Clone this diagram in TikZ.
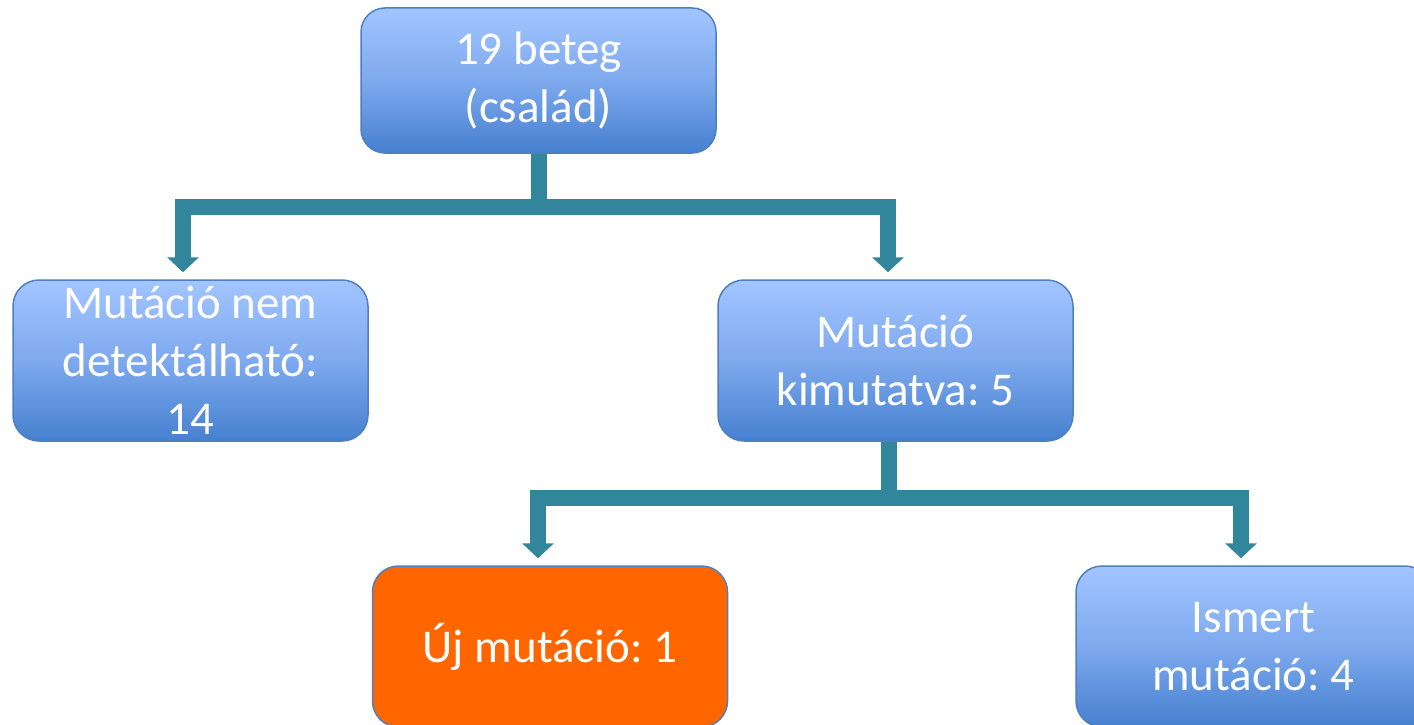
\documentclass[tikz,border=0pt]{standalone}
\usepackage{fontspec}
\setmainfont{Carlito}
\usetikzlibrary{arrows.meta}
\definecolor{boxtop}{HTML}{A2C5FF}
\definecolor{boxmid}{HTML}{7EA9EE}
\definecolor{boxbot}{HTML}{4580CF}
\definecolor{boxline}{HTML}{4F7FBF}
\definecolor{conncol}{HTML}{31869C}
\definecolor{orangefill}{HTML}{FF6600}
\tikzset{
  box/.style={rectangle, draw=boxline, line width=1.5pt, rounded corners=26pt,
    top color=boxtop, bottom color=boxbot, middle color=boxmid,
    minimum width=355pt, minimum height=161pt, inner sep=0pt,
    text=white, align=center, font=\fontsize{47}{58}\selectfont\frenchspacing},
  newbox/.style={box, fill=orangefill, top color=orangefill, bottom color=orangefill, middle color=orangefill},
  conn/.style={draw=conncol, line width=16pt, line join=miter,
    -{Triangle[width=31pt,length=15pt]}, shorten >=7pt},
}
\frenchspacing
\begin{document}
\begin{tikzpicture}[x=1pt,y=-1pt]
\useasboundingbox (0,0) rectangle (1414,725);
\clip (0,0) rectangle (1414,725);
\node[box, minimum height=145pt, rounded corners=24pt] (root) at (538.5,80.5) {19 beteg\\(család)};
\node[box] (nodet) at (190.5,360.5) {Mutáció nem\\detektálható:\\14};
\node[box] (found) at (895.5,360.5) {Mutáció\\kimutatva: 5};
\node[newbox] (uj) at (550,646.5) {Új mutáció: 1};
\node[box] (known) at (1253.5,646.5) {Ismert\\mutáció: 4};
\draw[conn] (root.south) -- ++(0,53) -| ([xshift=-7.5pt]nodet.north);
\draw[conn] (root.south) -- ++(0,53) -| ([xshift=-7.5pt]found.north);
\draw[conn] ([xshift=-6.5pt]found.south) -- ++(0,56) -| ([xshift=-12pt]uj.north);
\draw[conn] ([xshift=-6.5pt]found.south) -- ++(0,56) -| ([xshift=-12.5pt]known.north);
\end{tikzpicture}
\end{document}
